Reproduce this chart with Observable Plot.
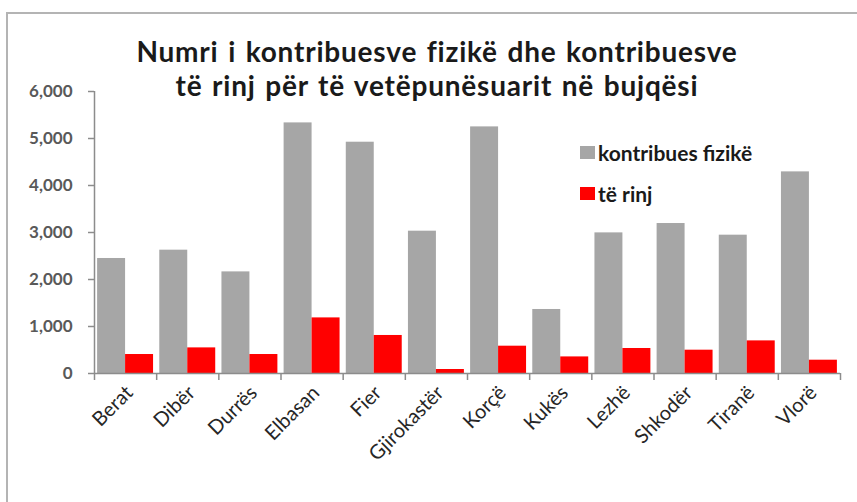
<!DOCTYPE html>
<html><head><meta charset="utf-8">
<script src="https://cdn.jsdelivr.net/npm/d3@7"></script>
<script src="https://cdn.jsdelivr.net/npm/@observablehq/plot@0.6"></script>
<style>
body{margin:0;background:#fff;font-family:Lato,"Open Sans",sans-serif;}
#wrap{position:relative;width:857px;height:502px;overflow:hidden;background:#fff;}
#frame{position:absolute;left:6px;top:12px;width:900px;height:600px;border-left:2px solid #b4b4b4;border-top:2px solid #b4b4b4;}
#chart{position:absolute;left:0;top:0;}
.tl{position:absolute;left:0;width:874px;height:34px;text-align:center;font-weight:700;font-size:28px;line-height:34px;letter-spacing:0.8px;word-spacing:2px;color:#1a1a1a;white-space:nowrap;}
.leg{position:absolute;left:580px;display:flex;align-items:center;font-weight:700;font-size:21px;color:#1a1a1a;height:24px;}
.sw{width:15px;height:13px;margin-right:3px;}
</style></head>
<body><div id="wrap"><div id="chart"></div><div id="frame"></div><div id="title"></div><div id="legend"></div></div>
<script>
const titleLines = ["Numri i kontribuesve fizikë dhe kontribuesve", "të rinj për të vetëpunësuarit në bujqësi"];
const regions = ["Berat","Dibër","Durrës","Elbasan","Fier","Gjirokastër","Korçë","Kukës","Lezhë","Shkodër","Tiranë","Vlorë"];
const fizike = [2447,2624,2162,5332,4921,3028,5247,1362,2992,3191,2943,4290];
const teRinj = [404,545,404,1183,809,85,581,353,532,496,694,283];
const yTicks = [0,1000,2000,3000,4000,5000,6000];
const seriesNames = ["kontribues fizikë","të rinj"];
const seriesColors = ["#a6a6a6","#ff0000"];

const W = 857, H = 502, ML = 94, MR = 17, MT = 91, MB = 129;
const step = (W - ML - MR) / regions.length;
const half = step * 0.45;

const titleTops = [34, 68];
document.getElementById("title").innerHTML = titleLines.map((t,i)=>
  `<div class="tl" style="top:${titleTops[i]}px">${t}</div>`).join("");
const legTops = [140, 181];
document.getElementById("legend").innerHTML = seriesNames.map((n,i)=>
  `<div class="leg" style="top:${legTops[i]}px"><div class="sw" style="background:${seriesColors[i]}"></div>${n}</div>`).join("");

const plot = Plot.plot({
  width: W, height: H,
  marginLeft: ML, marginRight: MR, marginTop: MT, marginBottom: MB,
  style: {fontFamily: "Lato, 'Open Sans', sans-serif", background: "transparent"},
  x: {domain: regions, paddingInner: 0.1, paddingOuter: 0.05, round: false, axis: null},
  y: {domain: [0, 6000], axis: null},
  marks: [
    Plot.barY(regions, {x: d => d, y: (d,i) => fizike[i], fill: seriesColors[0], insetRight: half}),
    Plot.barY(regions, {x: d => d, y: (d,i) => teRinj[i], fill: seriesColors[1], insetLeft: half}),
    Plot.axisY({ticks: yTicks, tickFormat: d3.format(","), tickSize: 6, tickPadding: 16, fontSize: 17, fontWeight: 700, color: "#595959", stroke: "#8c8c8c", strokeWidth: 1.5}),
    Plot.axisX({ticks: regions, tickSize: 0, tickPadding: 16, tickRotate: -45, fontSize: 20, dx: 4, color: "#262626"}),
    Plot.ruleX(regions, {x: d => d, y1: 0, y2: 0, insetBottom: -7, dx: -step/2, stroke: "#8c8c8c", strokeWidth: 1.5}),
    Plot.ruleX([regions[regions.length-1]], {x: d => d, y1: 0, y2: 0, insetBottom: -7, dx: step/2, stroke: "#8c8c8c", strokeWidth: 1.5}),
    Plot.ruleX([regions[0]], {x: d => d, y1: 0, y2: 6000, dx: -step/2, stroke: "#8c8c8c", strokeWidth: 1.5}),
    Plot.ruleY([0], {stroke: "#8c8c8c", strokeWidth: 1.5})
  ]
});
document.getElementById("chart").appendChild(plot);
</script></body></html>
